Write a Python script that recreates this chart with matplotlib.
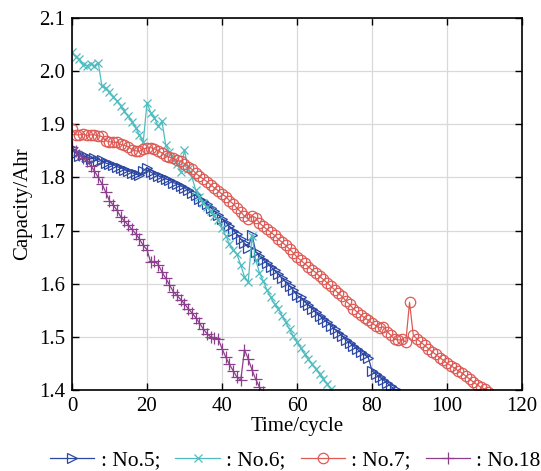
import matplotlib
matplotlib.use('Agg')
import matplotlib.pyplot as plt

plt.rcParams['font.family'] = ['Liberation Serif', 'DejaVu Serif']
plt.rcParams['mathtext.fontset'] = 'stix'

# Capacity per cycle
cap_no5 = [1.856, 1.846, 1.840, 1.842, 1.838, 1.835, 1.836, 1.830, 1.832, 1.827,
           1.825, 1.824, 1.820, 1.818, 1.814, 1.812, 1.809, 1.806, 1.804, 1.812,
           1.818, 1.810, 1.806, 1.803, 1.800, 1.797, 1.795, 1.790, 1.788, 1.784,
           1.780, 1.776, 1.770, 1.766, 1.760, 1.755, 1.749, 1.743, 1.736, 1.730,
           1.722, 1.715, 1.708, 1.700, 1.693, 1.684, 1.676, 1.668, 1.692, 1.660,
           1.652, 1.645, 1.638, 1.632, 1.625, 1.618, 1.610, 1.603, 1.596, 1.588,
           1.578, 1.574, 1.566, 1.560, 1.553, 1.546, 1.540, 1.533, 1.528, 1.521,
           1.515, 1.508, 1.502, 1.494, 1.489, 1.483, 1.477, 1.471, 1.466, 1.461,
           1.436, 1.430, 1.424, 1.419, 1.413, 1.407, 1.401, 1.394]
cap_no6 = [2.036, 2.027, 2.022, 2.012, 2.010, 2.014, 2.010, 2.016, 1.971, 1.968,
           1.960, 1.952, 1.944, 1.935, 1.924, 1.915, 1.905, 1.893, 1.880, 1.866,
           1.940, 1.922, 1.912, 1.896, 1.906, 1.860, 1.848, 1.836, 1.826, 1.810,
           1.852, 1.815, 1.800, 1.776, 1.763, 1.752, 1.744, 1.736, 1.728, 1.720,
           1.705, 1.690, 1.675, 1.663, 1.655, 1.635, 1.613, 1.603, 1.690, 1.645,
           1.620, 1.605, 1.588, 1.574, 1.562, 1.553, 1.540, 1.527, 1.514, 1.502,
           1.490, 1.479, 1.468, 1.458, 1.448, 1.440, 1.430, 1.421, 1.412, 1.402,
           1.392]
cap_no7 = [1.891, 1.880, 1.880, 1.881, 1.879, 1.880, 1.880, 1.878, 1.877, 1.869,
           1.867, 1.866, 1.866, 1.862, 1.860, 1.858, 1.852, 1.850, 1.849, 1.854,
           1.855, 1.856, 1.854, 1.850, 1.846, 1.840, 1.838, 1.836, 1.832, 1.830,
           1.826, 1.820, 1.815, 1.808, 1.802, 1.797, 1.792, 1.786, 1.780, 1.775,
           1.768, 1.764, 1.756, 1.750, 1.742, 1.735, 1.727, 1.722, 1.728, 1.724,
           1.714, 1.708, 1.702, 1.697, 1.691, 1.684, 1.678, 1.672, 1.665, 1.658,
           1.650, 1.644, 1.638, 1.632, 1.626, 1.621, 1.614, 1.608, 1.602, 1.595,
           1.589, 1.582, 1.576, 1.568, 1.561, 1.553, 1.547, 1.541, 1.536, 1.531,
           1.526, 1.521, 1.517, 1.519, 1.510, 1.503, 1.496, 1.494, 1.495, 1.490,
           1.565, 1.503, 1.496, 1.490, 1.484, 1.478, 1.472, 1.467, 1.461, 1.456,
           1.450, 1.446, 1.441, 1.436, 1.432, 1.426, 1.421, 1.415, 1.410, 1.405,
           1.402, 1.396]
cap_no18 = [1.857, 1.850, 1.842, 1.836, 1.830, 1.822, 1.812, 1.800, 1.788, 1.772,
            1.756, 1.748, 1.738, 1.726, 1.718, 1.710, 1.702, 1.694, 1.684, 1.672,
            1.664, 1.640, 1.642, 1.636, 1.622, 1.610, 1.598, 1.585, 1.578, 1.570,
            1.562, 1.553, 1.545, 1.536, 1.526, 1.515, 1.506, 1.500, 1.498, 1.496,
            1.478, 1.462, 1.448, 1.436, 1.424, 1.418, 1.476, 1.458, 1.438, 1.420,
            1.405, 1.396]

series = [
    (cap_no5, ': No.5;', '#2b47a3', '>', 7.5),
    (cap_no6, ': No.6;', '#4fbcbf', 'x', 6),
    (cap_no7, ': No.7;', '#de5a55', 'o', 7.5),
    (cap_no18, ': No.18.', '#8c3f8c', '+', 8),
]

fig = plt.figure(figsize=(5.41, 4.71), dpi=100)
ax = fig.add_axes([0.133, 0.172, 0.832, 0.79])

for caps, label, color, marker, ms in series:
    ax.plot(range(len(caps)), caps, color=color, linewidth=0.9,
            marker=marker, markersize=ms, markerfacecolor='none',
            markeredgewidth=0.9, label=label)

ax.set_xlim(0, 120)
ax.set_ylim(1.4, 2.1)
ax.set_xticks(range(0, 121, 20))
ax.set_yticks([1.4, 1.5, 1.6, 1.7, 1.8, 1.9, 2.0, 2.1])
ax.set_yticklabels(['1.4', '1.5', '1.6', '1.7', '1.8', '1.9', '2.0', '2.1'])
ax.grid(True, color='#d9d9d9', linewidth=0.9)
ax.set_axisbelow(True)
ax.tick_params(direction='in', length=5, width=1, top=True, right=True,
               labelsize=15, pad=5)
for spine in ax.spines.values():
    spine.set_linewidth(1.2)

ax.set_xlabel('Time/cycle', fontsize=15, labelpad=1)
ax.set_ylabel('Capacity/Ahr', fontsize=15, labelpad=5)

fig.legend(loc='center left', bbox_to_anchor=(0.093, 0.022), ncol=4,
           frameon=False, fontsize=15.5, handlelength=2.05, handletextpad=0.3,
           columnspacing=0.7, borderaxespad=0, borderpad=0)

fig.savefig('out.png', dpi=100)
